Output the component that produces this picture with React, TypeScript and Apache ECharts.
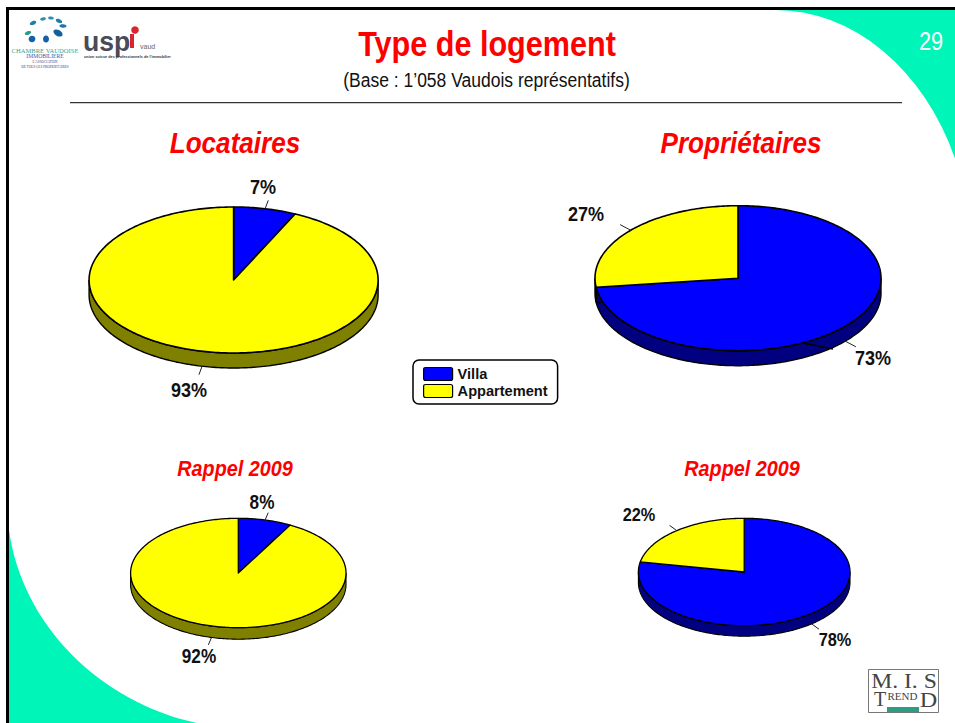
import React, { useEffect, useRef } from "react";
import * as echarts from "echarts";

// ---- data ----
const SEGMENTS = ["Villa", "Appartement"];
const PIE_NAMES = ["Locataires", "Propriétaires", "Rappel 2009", "Rappel 2009"];
const VILLA = [7, 73, 8, 78];
const APPARTEMENT = [93, 27, 92, 22];

// ---- layout of the four pies (ellipses seen in perspective) ----
const PIE_CX = [233.6, 738, 238.3, 744.2];
const PIE_CY = [280, 278.2, 573, 572];
const PIE_RX = [144.5, 143, 107.7, 105.8];
const PIE_RY = [73, 72.5, 54.7, 53.7];
const PIE_DEPTH = [15, 15, 11.5, 10.5];
const LEADER = [9, 12, 8, 9];
const VILLA_LABEL_POS = [[263, 186], [873, 357], [262, 502], [835, 640]];
const APPART_LABEL_POS = [[189, 389], [586, 213], [199, 656], [639, 515]];
const LABEL_SIZE = [21, 21, 20, 19];

const BLUE = "#0000FF";
const BLUE_DARK = "#000080";
const YELLOW = "#FFFF00";
const YELLOW_DARK = "#808000";
const TEAL = "#00F5B9";
const RED = "#FF0000";
const SANS = "'Liberation Sans', Arial, sans-serif";
const SERIF = "'Liberation Serif', serif";

const STEP = Math.PI / 180;

function ellipsePoint(i: number, t: number, dy = 0): number[] {
  return [PIE_CX[i] + PIE_RX[i] * Math.sin(t), PIE_CY[i] - PIE_RY[i] * Math.cos(t) + dy];
}

function arcPoints(i: number, a: number, b: number, dy = 0): number[][] {
  const n = Math.max(2, Math.ceil(Math.abs(b - a) / STEP));
  const out: number[][] = [];
  for (let k = 0; k <= n; k++) out.push(ellipsePoint(i, a + ((b - a) * k) / n, dy));
  return out;
}

function makeRenderItem(startOf: (i: number) => number, color: string, dark: string, labelPos: number[][]) {
  return (params: any, api: any) => {
    const i = params.dataIndex;
    const value = api.value(0);
    const a = (startOf(i) / 100) * 2 * Math.PI;
    const b = a + (value / 100) * 2 * Math.PI;
    const children: any[] = [];
    const sw = PIE_RX[i] > 120 ? 1.6 : 1.3;
    // side wall: only the front half of the ellipse can be seen
    const wa = Math.max(a, Math.PI / 2);
    const wb = Math.min(b, (3 * Math.PI) / 2);
    if (wb > wa) {
      const top = arcPoints(i, wa, wb);
      const bottom = arcPoints(i, wb, wa, PIE_DEPTH[i]);
      children.push({
        type: "polygon",
        shape: { points: top.concat(bottom) },
        style: { fill: dark, stroke: "#000", lineWidth: sw - 0.2 },
      });
    }
    // top face
    children.push({
      type: "polygon",
      shape: { points: [[PIE_CX[i], PIE_CY[i]]].concat(arcPoints(i, a, b)) },
      style: { fill: color, stroke: "#000", lineWidth: sw, lineJoin: "round" },
    });
    // leader line
    const mid = (a + b) / 2;
    const lower = Math.cos(mid) < 0;
    const p = ellipsePoint(i, mid, lower ? PIE_DEPTH[i] : 0);
    const dx0 = Math.sin(mid);
    const dy0 = -Math.cos(mid) * 0.6;
    const norm = Math.hypot(dx0, dy0);
    children.push({
      type: "line",
      shape: {
        x1: p[0],
        y1: p[1],
        x2: p[0] + (dx0 / norm) * LEADER[i],
        y2: p[1] + (dy0 / norm) * LEADER[i],
      },
      style: { stroke: "#222", lineWidth: 1 },
    });
    // percentage
    children.push({
      type: "text",
      x: labelPos[i][0],
      y: labelPos[i][1],
      scaleX: 0.86,
      style: {
        text: value + "%",
        fontFamily: SANS,
        fontWeight: "bold",
        fontSize: LABEL_SIZE[i],
        fill: "#111",
        align: "center",
        verticalAlign: "middle",
      },
    });
    return { type: "group", children };
  };
}

function txt(
  text: string,
  x: number,
  y: number,
  fontSize: number,
  fill: string,
  opts: any = {},
  scaleX = 1
): any {
  return {
    type: "text",
    x,
    y,
    scaleX,
    silent: true,
    style: {
      text,
      fontSize,
      fill,
      fontFamily: opts.family || SANS,
      fontWeight: opts.weight || "normal",
      fontStyle: opts.style || "normal",
      align: opts.align || "center",
      verticalAlign: "middle",
    },
  };
}

const blob = (cx: number, cy: number, rx: number, ry: number, rot: number, fill: string): any => ({
  type: "ellipse",
  x: cx,
  y: cy,
  rotation: rot,
  shape: { cx: 0, cy: 0, rx, ry },
  style: { fill },
  silent: true,
});

echarts.graphic.registerShape(
  "cornerTR",
  echarts.graphic.extendPath("M775 10 A197 250 0 0 1 955 158.5 L955 10 Z", {})
);
echarts.graphic.registerShape(
  "cornerBL",
  echarts.graphic.extendPath("M9 530 C22 625 100 702 197 723 L9 723 Z", {})
);

function buildOption(): any {
  const bg: any[] = [
    { type: "cornerTR", x: 0, y: 0, style: { fill: TEAL }, silent: true },
    { type: "cornerBL", x: 0, y: 0, style: { fill: TEAL }, silent: true },
    { type: "rect", shape: { x: 6, y: 7, width: 949, height: 3 }, style: { fill: "#000" }, silent: true },
    { type: "rect", shape: { x: 6, y: 7, width: 3, height: 716 }, style: { fill: "#000" }, silent: true },
    { type: "line", shape: { x1: 70, y1: 102.5, x2: 902, y2: 102.5 }, style: { stroke: "#333", lineWidth: 1 }, silent: true },
    { type: "line", shape: { x1: 70, y1: 103.5, x2: 902, y2: 103.5 }, style: { stroke: "#ccc", lineWidth: 1 }, silent: true },
  ];
  const texts: any[] = [
    txt("Type de logement", 487, 44, 36, RED, { weight: "bold" }, 0.85),
    txt("(Base : 1’058 Vaudois représentatifs)", 486.5, 80, 20, "#111", {}, 0.875),
    txt("29", 931, 41, 25, "#FFF", {}, 0.87),
    txt(PIE_NAMES[0], 235, 143, 30, RED, { weight: "bold", style: "italic" }, 0.87),
    txt(PIE_NAMES[1], 741, 143, 30, RED, { weight: "bold", style: "italic" }, 0.87),
    txt(PIE_NAMES[2], 235, 468, 22, RED, { weight: "bold", style: "italic" }, 0.9),
    txt(PIE_NAMES[3], 742, 468, 22, RED, { weight: "bold", style: "italic" }, 0.9),
  ];
  const chambre: any[] = [
    blob(33, 23, 3.4, 1.9, 0.4, "#1f7fa8"),
    blob(43, 19, 2.9, 1.6, 0.2, "#2a8fb0"),
    blob(51, 18, 2.9, 1.6, -0.1, "#2a8fb0"),
    blob(59, 21, 3.4, 1.9, -0.4, "#1f7fa8"),
    blob(63, 26, 3.6, 1.8, -0.1, "#1b78a8"),
    blob(58, 33, 5, 3, -0.5, "#14609c"),
    blob(46, 39, 3, 3.6, 0, "#155fa8"),
    blob(32, 39, 3.4, 3.2, 0.4, "#155fa8"),
    blob(28, 33, 3.4, 1.8, 0.4, "#2a9a8a"),
    txt("CHAMBRE VAUDOISE", 45, 50, 6.6, "#3aa28f", { family: SERIF }),
    txt("IMMOBILIERE", 45, 56, 5.6, "#3a55a8", { family: SERIF }),
    txt("L’ASSOCIATION", 45, 62, 3.4, "#334488", { family: SERIF }),
    txt("DE TOUS LES PROPRIETAIRES", 45, 67, 3.4, "#334488", { family: SERIF }),
  ];
  const uspi: any[] = [
    txt("usp", 83, 41, 28, "#4a4a58", { weight: "bold", align: "left" }, 0.95),
    { type: "rect", shape: { x: 130, y: 34, width: 4, height: 14 }, style: { fill: "#d8262c" }, silent: true },
    { type: "circle", shape: { cx: 135, cy: 30, r: 3.8 }, style: { fill: "#d8262c" }, silent: true },
    txt("vaud", 140, 46, 7, "#666", { align: "left" }),
    txt("union suisse des professionnels de l’immobilier", 84, 57, 3.8, "#333", { weight: "bold", align: "left" }),
  ];
  const mis: any[] = [
    { type: "rect", shape: { x: 868.5, y: 669.5, width: 70, height: 43 }, style: { fill: "#fff", stroke: "#777", lineWidth: 1 }, silent: true },
    txt("M. I. S", 904, 682, 20, "#444", { family: SERIF }, 1.18),
    txt("T", 880, 699, 20, "#444", { family: SERIF }),
    txt("REND", 902.5, 697, 10, "#444", { family: SERIF }, 1.1),
    txt("D", 928.5, 699, 22, "#444", { family: SERIF }, 1.1),
    { type: "rect", shape: { x: 887, y: 707, width: 32, height: 5 }, style: { fill: "#2a9d82" }, silent: true },
  ];
  const strays: any[] = [
    { type: "line", z: 5, shape: { x1: 803, y1: 343, x2: 833, y2: 349 }, style: { stroke: "#000", lineWidth: 1.6 }, silent: true },
    { type: "line", z: 5, shape: { x1: 597, y1: 303, x2: 602, y2: 302 }, style: { stroke: "#000", lineWidth: 1 }, silent: true },
  ];
  return {
    animation: false,
    backgroundColor: "#FFFFFF",
    tooltip: { show: false },
    legend: {
      show: true,
      data: SEGMENTS,
      orient: "vertical",
      left: 413,
      top: 360,
      padding: [6, 10, 5, 10],
      itemWidth: 29,
      itemHeight: 13,
      itemGap: 1,
      itemStyle: { borderColor: "#000", borderWidth: 1.2 },
      selectedMode: false,
      backgroundColor: "#FFFFFF",
      borderColor: "#000",
      borderWidth: 1.5,
      borderRadius: 6,
      icon: "path://M2 0H27Q29 0 29 2V11Q29 13 27 13H2Q0 13 0 11V2Q0 0 2 0Z",
      textStyle: { fontFamily: SANS, fontWeight: "bold", fontSize: 14.6, lineHeight: 16, color: "#111" },
    },
    graphic: { elements: [...bg, ...chambre, ...uspi, ...mis, ...texts, ...strays] },
    series: [
      {
        type: "custom",
        name: SEGMENTS[0],
        coordinateSystem: "none",
        silent: true,
        clip: false,
        itemStyle: { color: BLUE },
        data: VILLA.map((v) => [v]),
        renderItem: makeRenderItem(() => 0, BLUE, BLUE_DARK, VILLA_LABEL_POS),
      },
      {
        type: "custom",
        name: SEGMENTS[1],
        coordinateSystem: "none",
        silent: true,
        clip: false,
        itemStyle: { color: YELLOW },
        data: APPARTEMENT.map((v) => [v]),
        renderItem: makeRenderItem((i) => VILLA[i], YELLOW, YELLOW_DARK, APPART_LABEL_POS),
      },
    ],
  };
}

export default function App() {
  const ref = useRef<HTMLDivElement>(null);
  useEffect(() => {
    if (!ref.current) return;
    const chart = echarts.init(ref.current, undefined, { renderer: "svg" });
    chart.setOption(buildOption());
    return () => chart.dispose();
  }, []);
  return <div ref={ref} style={{ position: "absolute", left: 0, top: 0, width: 955, height: 723 }} />;
}
